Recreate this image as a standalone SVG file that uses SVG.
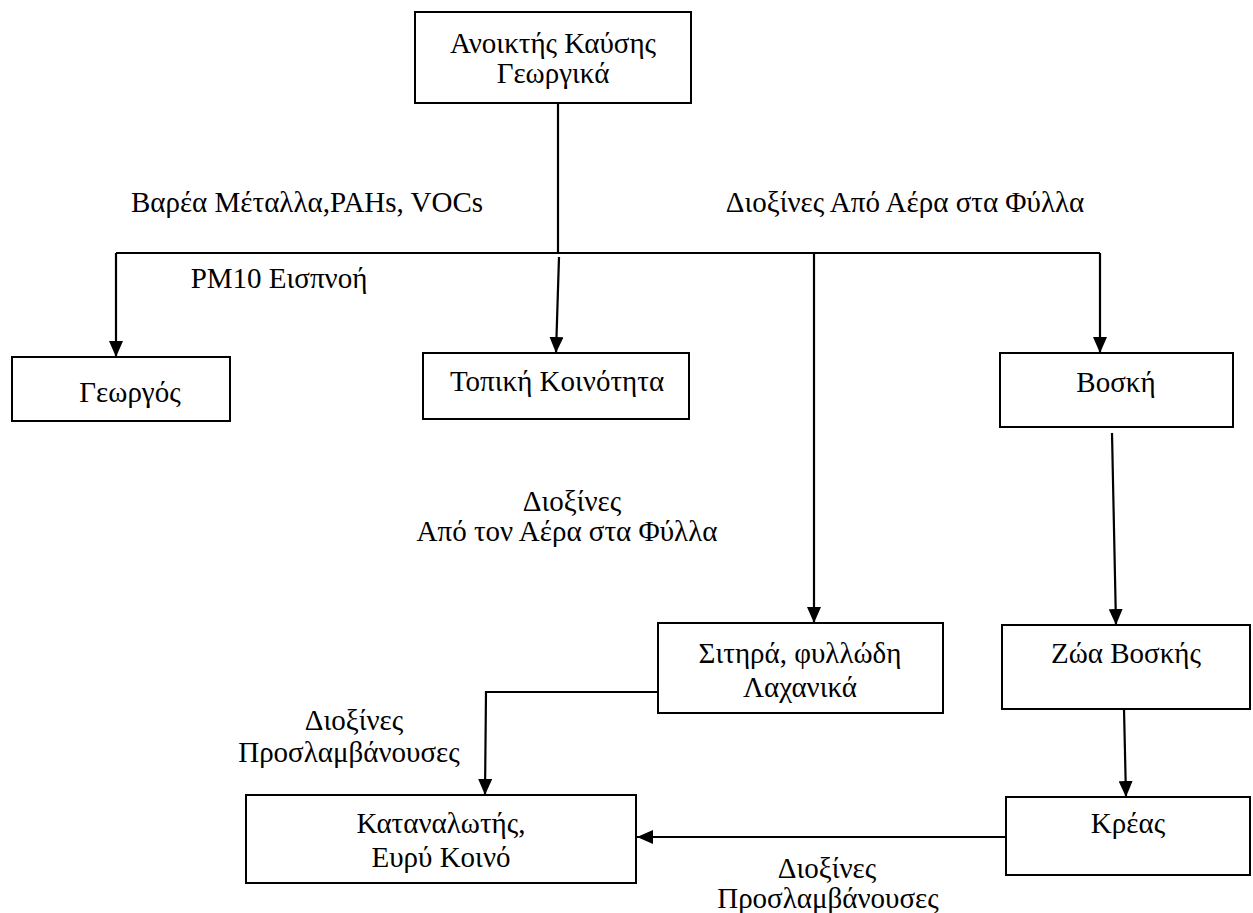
<svg xmlns="http://www.w3.org/2000/svg" width="1253" height="913" viewBox="0 0 1253 913">
<style>
.box{fill:#fff;stroke:#000;stroke-width:2}
.t{font-family:"Liberation Serif","Times New Roman",serif;font-size:29px;fill:#000;text-anchor:middle}
.c{fill:none;stroke:#000;stroke-width:2.2}
</style>
<defs>
<marker id="ah" markerUnits="userSpaceOnUse" markerWidth="16" markerHeight="14" viewBox="0 0 16 14" refX="16" refY="7" orient="auto">
<path d="M0,0 L16,7 L0,14 Z" fill="#000"/>
</marker>
</defs>
<rect width="1253" height="913" fill="#fff"/>
<g id="connectors">
<line class="c" x1="558" y1="103" x2="558" y2="253"/>
<line class="c" x1="116" y1="253" x2="1100" y2="253"/>
<line class="c" x1="116" y1="253" x2="116" y2="357" marker-end="url(#ah)"/>
<line class="c" x1="559" y1="257" x2="556" y2="353" marker-end="url(#ah)"/>
<line class="c" x1="814" y1="253" x2="814" y2="623" marker-end="url(#ah)"/>
<line class="c" x1="1100" y1="253" x2="1100" y2="353" marker-end="url(#ah)"/>
<line class="c" x1="1112" y1="433" x2="1116" y2="625" marker-end="url(#ah)"/>
<line class="c" x1="1124" y1="709" x2="1126" y2="797" marker-end="url(#ah)"/>
<line class="c" x1="1006" y1="837" x2="637" y2="837" marker-end="url(#ah)"/>
<polyline class="c" points="658,692 486,692 485,795" marker-end="url(#ah)"/>
</g>
<g id="labels">
<text class="t" x="307" y="212">Βαρέα Μέταλλα,PAHs, VOCs</text>
<text class="t" x="905" y="212">Διοξίνες Από Αέρα στα Φύλλα</text>
<text class="t" x="279" y="288">PM10 Εισπνοή</text>
<text class="t" x="572" y="511">Διοξίνες</text>
<text class="t" x="567" y="541">Από τον Αέρα στα Φύλλα</text>
<text class="t" x="354" y="730">Διοξίνες</text>
<text class="t" x="349" y="762">Προσλαμβάνουσες</text>
<text class="t" x="827" y="878">Διοξίνες</text>
<text class="t" x="828" y="908">Προσλαμβάνουσες</text>
</g>
<g id="n-source">
<rect class="box" x="415" y="12" width="276" height="91"/>
<text class="t" x="553" y="53">Ανοικτής Καύσης</text>
<text class="t" x="553" y="83">Γεωργικά</text>
</g>
<g id="n-farmer">
<rect class="box" x="12" y="357" width="218" height="64"/>
<text class="t" x="130" y="402">Γεωργός</text>
</g>
<g id="n-community">
<rect class="box" x="423" y="353" width="266" height="66"/>
<text class="t" x="557" y="391">Τοπική Κοινότητα</text>
</g>
<g id="n-pasture">
<rect class="box" x="1000" y="353" width="233" height="74"/>
<text class="t" x="1116" y="392">Βοσκή</text>
</g>
<g id="n-crops">
<rect class="box" x="658" y="623" width="285" height="90"/>
<text class="t" x="800" y="663">Σιτηρά, φυλλώδη</text>
<text class="t" x="800" y="697">Λαχανικά</text>
</g>
<g id="n-animals">
<rect class="box" x="1002" y="625" width="248" height="84"/>
<text class="t" x="1126" y="663">Ζώα Βοσκής</text>
</g>
<g id="n-meat">
<rect class="box" x="1006" y="797" width="244" height="78"/>
<text class="t" x="1128" y="833">Κρέας</text>
</g>
<g id="n-consumer">
<rect class="box" x="246" y="795" width="390" height="88"/>
<text class="t" x="441" y="833">Καταναλωτής,</text>
<text class="t" x="441" y="867">Ευρύ Κοινό</text>
</g>
</svg>
